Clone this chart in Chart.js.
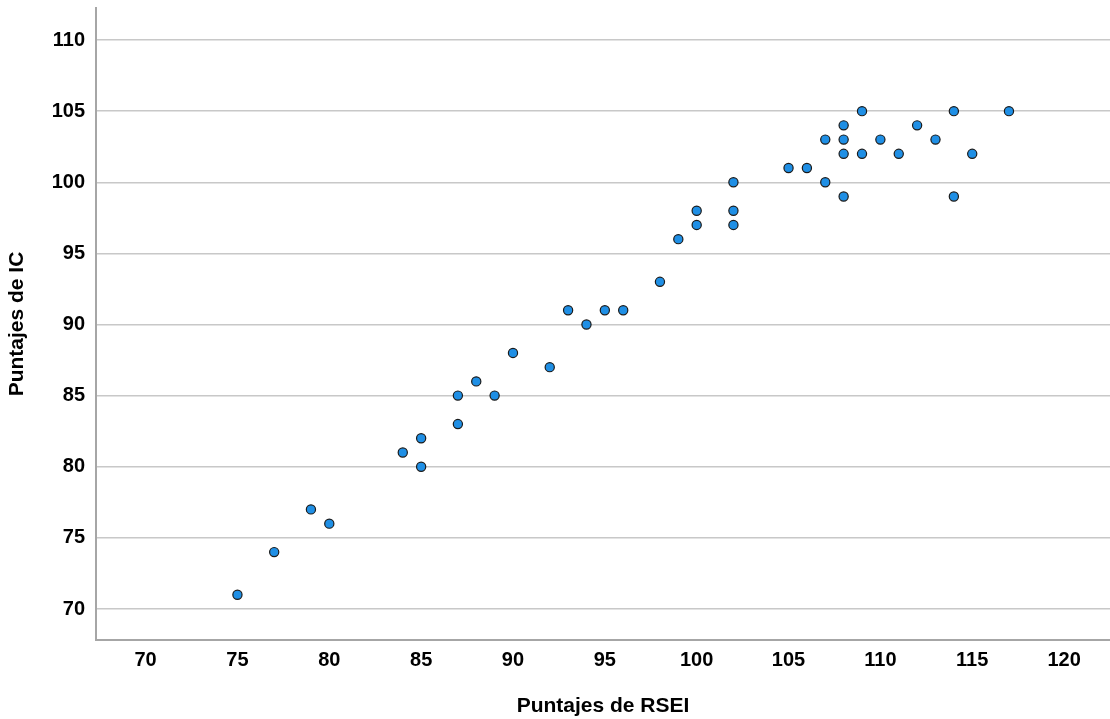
<!DOCTYPE html>
<html>
<head>
<meta charset="utf-8">
<script src="https://cdn.jsdelivr.net/npm/chart.js@4/dist/chart.umd.min.js"></script>
<style>
  html, body { margin: 0; padding: 0; background: #fff; overflow: hidden; }
  canvas { display: block; }
</style>
</head>
<body>
<canvas id="chart-scatter" width="1110" height="719"></canvas>
<script>
// Scatter data (integer scores)
const rseiScores = [75, 77, 79, 80, 84, 85, 85, 87, 87, 88, 89, 90, 92, 93, 94, 95, 96, 98, 99, 100,
  100, 102, 102, 102, 105, 106, 107, 107, 108, 108, 108, 108, 109, 109, 110, 111, 112, 113, 114, 114, 115, 117];
const icScores = [71, 74, 77, 76, 81, 82, 80, 85, 83, 86, 85, 88, 87, 91, 90, 91, 91, 93, 96, 98,
  97, 100, 98, 97, 101, 101, 103, 100, 104, 103, 102, 99, 105, 102, 103, 102, 104, 103, 105, 99, 102, 105];

const xTicks = [70, 75, 80, 85, 90, 95, 100, 105, 110, 115, 120];
const yTicks = [70, 75, 80, 85, 90, 95, 100, 105, 110];

const xTitle = 'Puntajes de RSEI';
const yTitle = 'Puntajes de IC';

Chart.defaults.font.family = "'Liberation Sans', Arial, sans-serif";
Chart.defaults.color = '#000';

const points = rseiScores.map((x, i) => ({ x, y: icScores[i] }));

const ctx = document.getElementById('chart-scatter').getContext('2d');

new Chart(ctx, {
  type: 'scatter',
  data: {
    datasets: [{
      data: points,
      backgroundColor: '#1f8fe5',
      borderColor: '#1a1a1a',
      borderWidth: 1.2,
      pointRadius: 4.6,
      pointHoverRadius: 4.6,
    }]
  },
  options: {
    responsive: false,
    animation: false,
    layout: {
      autoPadding: false,
      padding: { top: 8, left: 0, right: 0, bottom: 0 }
    },
    plugins: {
      legend: { display: false },
      tooltip: { enabled: false }
    },
    scales: {
      x: {
        type: 'linear',
        min: 67.3,
        max: 122.5,
        afterBuildTicks: scale => { scale.ticks = xTicks.map(v => ({ value: v })); },
        afterFit: scale => {
          scale.height = 79;
          scale.paddingLeft = 0;
          scale.paddingRight = 0;
        },
        grid: { display: false, drawTicks: false },
        border: { display: true, color: '#a6a6a6', width: 2 },
        ticks: { font: { size: 20, weight: 'bold' }, padding: 8, maxRotation: 0 },
        title: {
          display: true,
          text: xTitle,
          font: { size: 21, weight: 'bold' },
          padding: { top: 0, bottom: 0 }
        }
      },
      y: {
        min: 67.82,
        max: 112.25,
        afterBuildTicks: scale => { scale.ticks = yTicks.map(v => ({ value: v })); },
        afterFit: scale => {
          scale.width = 96;
          scale.paddingTop = 0;
          scale.paddingBottom = 0;
        },
        grid: { color: '#c8c8c8', lineWidth: 1.5, drawTicks: false },
        border: { display: true, color: '#a6a6a6', width: 2 },
        ticks: { font: { size: 20, weight: 'bold' }, padding: 11 },
        title: {
          display: true,
          text: yTitle,
          font: { size: 21, weight: 'bold' },
          padding: { top: 5, bottom: 0 }
        }
      }
    }
  }
});
</script>
</body>
</html>
